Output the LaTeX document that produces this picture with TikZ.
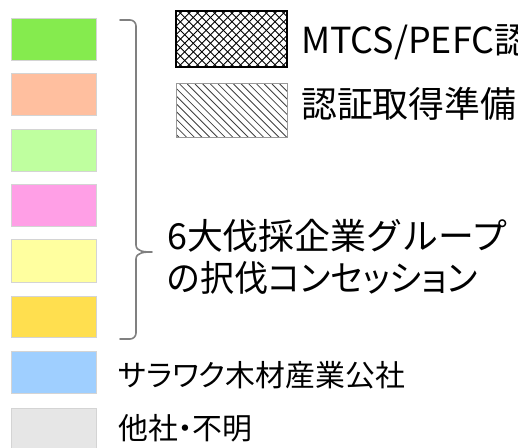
\documentclass[tikz,border=0pt]{standalone}
\usepackage{fontspec}
\usepackage{graphicx}
\setmainfont{Noto Sans CJK JP}
\newfontfamily\jpp{Noto Sans CJK JP}[RawFeature=+palt]
\definecolor{cA}{HTML}{85EB4E}
\definecolor{cB}{HTML}{FFBF9F}
\definecolor{cC}{HTML}{BFFF9F}
\definecolor{cD}{HTML}{FF9FE6}
\definecolor{cE}{HTML}{FFFF9F}
\definecolor{cF}{HTML}{FFDF4F}
\definecolor{cG}{HTML}{9FCFFF}
\definecolor{cH}{HTML}{E6E6E6}
\definecolor{swborder}{HTML}{D4D4D4}
\definecolor{bracegray}{HTML}{808080}
\tikzset{
  swatch/.style={draw=swborder, line width=1bp},
  bigtxt/.style={anchor=base west, inner sep=0pt, font=\fontsize{36}{36}\selectfont},
  smalltxt/.style={anchor=base west, inner sep=0pt, font=\fontsize{30}{30}\selectfont},
  bracestyle/.style={draw=bracegray, line width=1.6bp, line cap=round, line join=round},
}
\begin{document}
\begin{tikzpicture}[x=1bp,y=-1bp]
\clip (0,0) rectangle (518,448);
\fill[white] (0,0) rectangle (518,448);
% swatches
\foreach \c/\t/\b in {cA/19/61, cB/74/116, cC/130/172, cD/185/227, cE/240/282, cF/296/337, cG/351/393, cH/408/452}{
  \path[swatch, fill=\c] (11,\t) rectangle (96,\b);
}
% brace
\coordinate (btop) at (120,20);
\coordinate (bbot) at (120,339);
\coordinate (btip) at (152,252);
\draw[bracestyle] (btop) -- (130,20) to[out=0,in=90] (136,26) -- (136,245)
  to[out=-90,in=180] (btip) to[out=180,in=90] (136,259) -- (136,333)
  to[out=-90,in=0] (130,339) -- (bbot);
% crosshatch box
\begin{scope}
  \clip (176,11) rectangle (287,67);
  \foreach \i in {0,...,22}{
    \draw[black, line width=0.9bp] ({118+8.6*\i},11) -- ++(56,56);
    \draw[black, line width=0.9bp] ({118+8.6*\i},67) -- ++(56,-56);
  }
\end{scope}
\draw[black, line width=2.6bp] (176,11) rectangle (287,67);
% diagonal hatch box
\begin{scope}
  \clip (176,84) rectangle (287,138);
  \foreach \i in {0,...,22}{
    \draw[black!75, line width=0.8bp] ({118+7.7*\i},84) -- ++(54,54);
  }
\end{scope}
\draw[black!40, line width=1bp] (176,84) rectangle (287,138);
% texts
\node[bigtxt] (t1) at (301,54) {MTCS/PEFC認証取得済み};
\node[bigtxt] (t2) at (301,118) {認証取得準備中};
\node[bigtxt] (t3) at (167,250) {6大伐採企業グループ};
\node[bigtxt] (t4) at (167,291) {\scalebox{0.95}[1]{\jpp の択伐コンセッション}};
\node[smalltxt] (t5) at (118,386) {\jpp サラワク木材産業公社};
\node[smalltxt] (t6) at (118,439) {\jpp 他社・不明};
\end{tikzpicture}
\end{document}
